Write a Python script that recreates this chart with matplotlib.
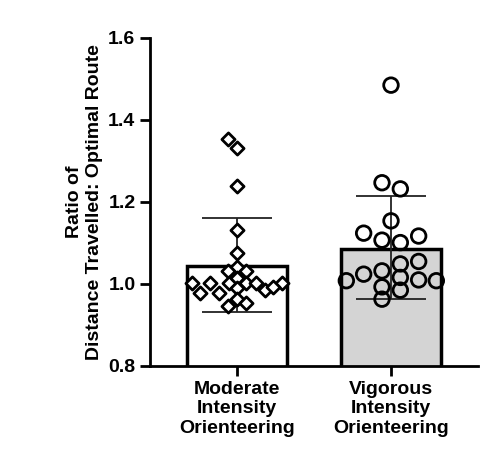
import matplotlib
matplotlib.use("Agg")
import matplotlib.pyplot as plt

plt.rcParams['font.family'] = ['Liberation Sans', 'DejaVu Sans']
plt.rcParams['font.weight'] = 'bold'

categories = ["Moderate\nIntensity\nOrienteering", "Vigorous\nIntensity\nOrienteering"]
means = [1.044, 1.086]
err_lo = [0.932, 0.964]
err_hi = [1.162, 1.215]
mod_vals = [1.354, 1.331, 1.239, 1.131, 1.076, 1.041, 1.031, 1.031, 1.002, 1.002, 1.002, 1.014,
            1.002, 1.002, 1.002, 0.979, 0.979, 0.991, 0.985, 0.993, 0.963, 0.946, 0.953]
mod_off = [-27, 0, 0, 0, 0, 0, -27, 28, -134, -82, -25, 0, 28, 56, 136, -110, -54, 0, 83, 108, 0, -27, 28]
vig_vals = [1.485, 1.247, 1.232, 1.154, 1.124, 1.107, 1.101, 1.117, 1.049, 1.055, 1.032, 1.024,
            1.016, 1.010, 1.008, 1.008, 0.993, 0.985, 0.963]
vig_off = [0, -27, 28, 0, -82, -27, 28, 83, 28, 83, -27, -82, 28, 83, 136, -134, -27, 28, -27]

fig = plt.figure(figsize=(4.95, 4.67), dpi=100)
ax = fig.add_axes([150/495, 1-366/467, 328/495, 328/467])
ax.bar([0, 1], means, width=0.65, bottom=0, color=["white", "#d4d4d4"], edgecolor="black", linewidth=2.5, zorder=1)
for i in range(2):
    ax.errorbar(i, means[i], yerr=[[means[i]-err_lo[i]], [err_hi[i]-means[i]]], fmt="none",
                ecolor="#222222", elinewidth=1.3, capsize=25, capthick=1.3, zorder=2)
ax.scatter([o/462 for o in mod_off], mod_vals, marker="D", s=45, facecolor="white", edgecolor="black", linewidth=2, zorder=3)
ax.scatter([1+o/462 for o in vig_off], vig_vals, marker="o", s=110, facecolor="none", edgecolor="black", linewidth=2, zorder=3)
ax.set_ylim(0.8, 1.6)
ax.set_xlim(-0.565, 1.565)
ax.set_yticks([0.8, 1.0, 1.2, 1.4, 1.6])
ax.set_yticklabels(["0.8", "1.0", "1.2", "1.4", "1.6"])
ax.set_xticks([0, 1])
ax.set_xticklabels(categories)
for t in ax.get_xticklabels() + ax.get_yticklabels():
    t.set_fontsize(14); t.set_fontweight("bold")
ax.set_ylabel("Ratio of\nDistance Travelled: Optimal Route", fontsize=14, fontweight="bold")
for s in ["top", "right"]:
    ax.spines[s].set_visible(False)
for s in ["left", "bottom"]:
    ax.spines[s].set_linewidth(2)
ax.tick_params(width=2, length=7)
fig.savefig("out.png", dpi=100)
